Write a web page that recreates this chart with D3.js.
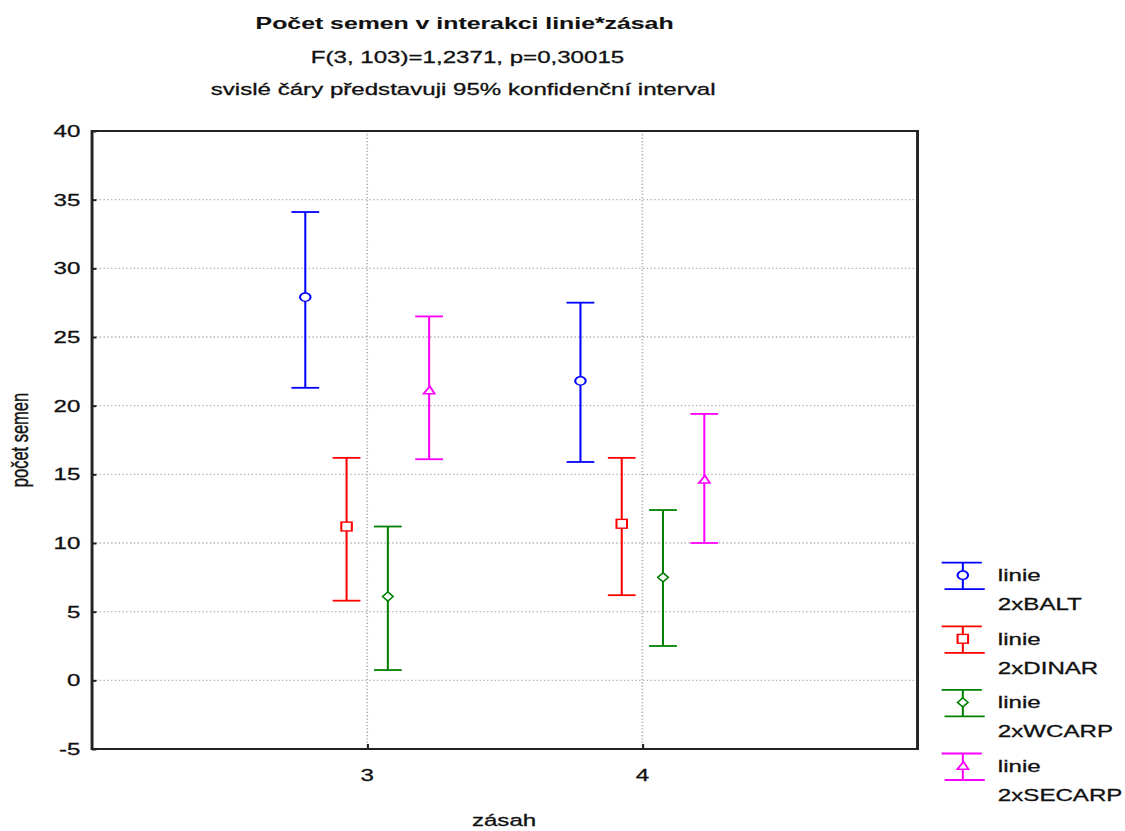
<!DOCTYPE html>
<html>
<head>
<meta charset="utf-8">
<script src="https://cdn.jsdelivr.net/npm/d3@7"></script>
<style>
  html, body { margin: 0; padding: 0; background: white; }
  svg { display: block; }
  text { font-family: "Liberation Sans", Arial, sans-serif; fill: #111; stroke: #111; stroke-width: 0.3px; }
</style>
</head>
<body>
<div id="chart"></div>
<script>
// data
var zasah = [3, 4];
var tickValuesY = [-5, 0, 5, 10, 15, 20, 25, 30, 35, 40];
var seriesNames = ["2xBALT", "2xDINAR", "2xWCARP", "2xSECARP"];
var seriesColors = ["#0000ff", "#ff0000", "#008000", "#ff00ff"];
var means = [[27.9, 21.8], [11.2, 11.4], [6.1, 7.5], [21.1, 14.6]];
var lower = [[21.3, 15.9], [5.8, 6.2], [0.75, 2.5], [16.1, 10.0]];
var upper = [[34.1, 27.5], [16.2, 16.2], [11.2, 12.4], [26.5, 19.4]];

var width = 1125, height = 831;
// the original picture is stretched sideways, so draw at 770 wide and scale
var baseW = 770;
var sx = width / baseW;
var margin = {left: 63, right: baseW - 628, top: 131, bottom: height - 749};
var offsets = [-0.225, -0.075, 0.075, 0.225];
var capHalf = 9.5;

var svg = d3.select("#chart").append("svg")
    .attr("width", width)
    .attr("height", height);

var root = svg.append("g").attr("transform", "scale(" + sx + ",1)");

var xScale = d3.scaleLinear()
    .domain([2, 5])
    .range([margin.left, baseW - margin.right]);

var yScale = d3.scaleLinear()
    .domain([-5, 40])
    .range([height - margin.bottom, margin.top]);

// gridlines
root.append("g")
    .selectAll("line")
    .data(tickValuesY.filter(function(d) { return d > -5 && d < 40; }))
    .enter().append("line")
    .attr("x1", margin.left).attr("x2", baseW - margin.right)
    .attr("y1", function(d) { return yScale(d); })
    .attr("y2", function(d) { return yScale(d); })
    .attr("stroke", "#b4b4b4")
    .attr("stroke-width", 1.3)
    .attr("stroke-dasharray", "1,1.6");

root.append("g")
    .selectAll("line")
    .data(zasah)
    .enter().append("line")
    .attr("x1", function(d) { return xScale(d); })
    .attr("x2", function(d) { return xScale(d); })
    .attr("y1", margin.top).attr("y2", height - margin.bottom)
    .attr("stroke", "#b4b4b4")
    .attr("stroke-width", 1.2)
    .attr("stroke-dasharray", "1.3,2");

// axes
var yAxis = root.append("g")
    .attr("transform", "translate(" + margin.left + ",0)")
    .call(d3.axisRight(yScale).tickValues(tickValuesY).tickSize(3).tickFormat(""));
yAxis.select(".domain").remove();
yAxis.selectAll("line").attr("stroke", "#222").attr("stroke-width", 2);

var xAxis = root.append("g")
    .attr("transform", "translate(0," + (height - margin.bottom) + ")")
    .call(d3.axisTop(xScale).tickValues(zasah).tickSize(5).tickFormat(""));
xAxis.select(".domain").remove();
xAxis.selectAll("line").attr("stroke", "#222").attr("stroke-width", 1.4);

// tick labels
root.append("g")
    .selectAll("text")
    .data(tickValuesY)
    .enter().append("text")
    .attr("x", 55)
    .attr("y", function(d) { return yScale(d); })
    .attr("dy", "0.36em")
    .attr("text-anchor", "end")
    .style("font-size", "16.5px")
    .text(function(d) { return d; });

root.append("g")
    .selectAll("text")
    .data(zasah)
    .enter().append("text")
    .attr("x", function(d) { return xScale(d); })
    .attr("y", 781)
    .attr("text-anchor", "middle")
    .style("font-size", "16.5px")
    .text(function(d) { return d; });

// frame
root.append("rect")
    .attr("x", margin.left).attr("y", margin.top)
    .attr("width", baseW - margin.left - margin.right)
    .attr("height", height - margin.top - margin.bottom)
    .attr("fill", "none")
    .attr("stroke", "#222")
    .attr("stroke-width", 2);

// markers
function marker(sel, i, color) {
    if (i === 0) {
        sel.append("ellipse").attr("rx", 3.6).attr("ry", 4.2)
            .attr("fill", "white").attr("stroke", color).attr("stroke-width", 1.4);
    } else if (i === 1) {
        sel.append("rect").attr("x", -3.6).attr("y", -4.4).attr("width", 7.2).attr("height", 8.8)
            .attr("fill", "white").attr("stroke", color).attr("stroke-width", 1.4);
    } else if (i === 2) {
        sel.append("path").attr("d", "M0,-4.6L3.6,0L0,4.6L-3.6,0Z")
            .attr("fill", "white").attr("stroke", color).attr("stroke-width", 1.3);
    } else {
        sel.append("path").attr("d", "M0.5,-4.2L3.8,3.2L-3.8,3.2Z")
            .attr("fill", "white").attr("stroke", color).attr("stroke-width", 1.4);
    }
}

// error bars
seriesNames.forEach(function(name, i) {
    var color = seriesColors[i];
    var g = root.append("g").attr("class", "series");
    zasah.forEach(function(z, j) {
        var cx = xScale(z + offsets[i]);
        g.append("line")
            .attr("x1", cx).attr("x2", cx)
            .attr("y1", yScale(upper[i][j])).attr("y2", yScale(lower[i][j]))
            .attr("stroke", color).attr("stroke-width", 1.4);
        [upper[i][j], lower[i][j]].forEach(function(v) {
            g.append("line")
                .attr("x1", cx - capHalf).attr("x2", cx + capHalf)
                .attr("y1", yScale(v)).attr("y2", yScale(v))
                .attr("stroke", color).attr("stroke-width", 1.8);
        });
        var m = g.append("g").attr("transform", "translate(" + cx + "," + yScale(means[i][j]) + ")");
        marker(m, i, color);
    });
});

// titles
root.append("text")
    .attr("x", 318).attr("y", 29)
    .attr("text-anchor", "middle")
    .style("font-size", "17px")
    .style("font-weight", "bold")
    .style("stroke-width", "0.1px")
    .text("Počet semen v interakci linie*zásah");

root.append("text")
    .attr("x", 320).attr("y", 63)
    .attr("text-anchor", "middle")
    .style("font-size", "16.5px")
    .text("F(3, 103)=1,2371, p=0,30015");

root.append("text")
    .attr("x", 317).attr("y", 95)
    .attr("text-anchor", "middle")
    .style("font-size", "16.5px")
    .text("svislé čáry představuji 95% konfidenční interval");

// axis labels
root.append("text")
    .attr("x", 345).attr("y", 826)
    .attr("text-anchor", "middle")
    .style("font-size", "16.5px")
    .text("zásah");

root.append("text")
    .attr("transform", "translate(19," + ((margin.top + height - margin.bottom) / 2) + ") rotate(-90)")
    .attr("text-anchor", "middle")
    .style("font-size", "16.5px")
    .text("počet semen");

// legend
var legend = root.append("g").attr("transform", "translate(659,562.7)");
seriesNames.forEach(function(name, i) {
    var color = seriesColors[i];
    var lg = legend.append("g").attr("transform", "translate(0," + (i * 63.6) + ")");
    lg.append("line").attr("x1", -14.5).attr("x2", 13).attr("y1", 0).attr("y2", 0)
        .attr("stroke", color).attr("stroke-width", 1.8);
    lg.append("line").attr("x1", -12.5).attr("x2", 15).attr("y1", 26.5).attr("y2", 26.5)
        .attr("stroke", color).attr("stroke-width", 1.8);
    lg.append("line").attr("x1", 0).attr("x2", 0).attr("y1", 0).attr("y2", 26.5)
        .attr("stroke", color).attr("stroke-width", 1.4);
    marker(lg.append("g").attr("transform", "translate(0,12.5)"), i, color);
    lg.append("text").attr("x", 24).attr("y", 18.5)
        .style("font-size", "16.5px").text("linie");
    lg.append("text").attr("x", 24).attr("y", 47.5)
        .style("font-size", "16.5px").text(name);
});
</script>
</body>
</html>
